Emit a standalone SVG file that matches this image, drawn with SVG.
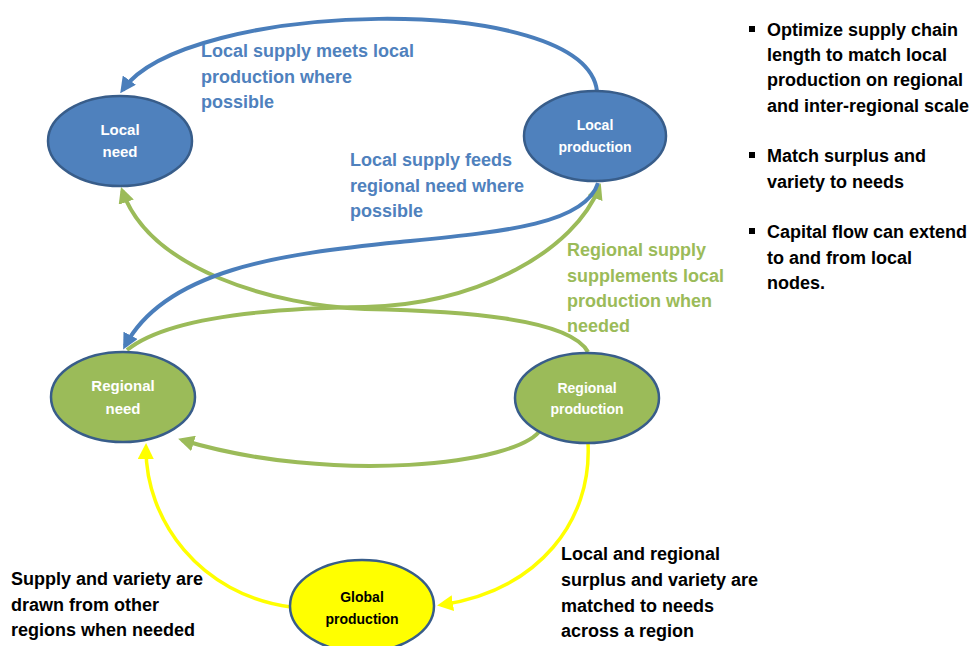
<svg xmlns="http://www.w3.org/2000/svg" width="976" height="646" viewBox="0 0 976 646">
<style>
.node{stroke:#385D8A;stroke-width:2.5}
.blue{fill:#4F81BD}
.green{fill:#9BBB59}
.yellow{fill:#FFFF00}
.nt{font-family:"Liberation Sans",Arial,sans-serif;font-weight:bold;font-size:14px;fill:#FFFFFF;text-anchor:middle}
.ntb{fill:#000000}
.lbl{font-family:"Liberation Sans",Arial,sans-serif;font-weight:bold;font-size:18px}
.lb{fill:#4F81BD}
.lg{fill:#9BBB59}
.lk{fill:#000000}
.c{fill:none;stroke-width:4}
.cb{stroke:#4A7EBB}
.cg{stroke:#9BBB59}
.cy{stroke:#FFFF00;stroke-width:3.5}
</style>
<defs>
<marker id="ab" markerUnits="userSpaceOnUse" viewBox="0 0 16 16" markerWidth="16" markerHeight="16" refX="12" refY="8" orient="auto"><path d="M0,0 L16,8 L0,16 z" fill="#4A7EBB"/></marker>
<marker id="ag" markerUnits="userSpaceOnUse" viewBox="0 0 16 16" markerWidth="16" markerHeight="16" refX="12" refY="8" orient="auto"><path d="M0,0 L16,8 L0,16 z" fill="#9BBB59"/></marker>
<marker id="ay" markerUnits="userSpaceOnUse" viewBox="0 0 16 16" markerWidth="16" markerHeight="16" refX="12" refY="8" orient="auto"><path d="M0,0 L16,8 L0,16 z" fill="#FFFF00"/></marker>
</defs>
<rect width="976" height="646" fill="#FFFFFF"/>
<g id="connectors">
<path class="c cb" d="M597,91 C585,-10 185,0 122.5,90" marker-end="url(#ab)"/>
<path class="c cg" d="M588,352 C570,318 460,311 365,309 C275,306 150,270 122.3,190.8" marker-end="url(#ag)"/>
<path class="c cg" d="M127,350 C170,315 280,308 365,307 C480,304 575,250 599.3,187" marker-end="url(#ag)"/>
<path class="c cb" d="M598,183 C585,225 500,232 400,242 C280,254 165,270 125,346" marker-end="url(#ab)"/>
<path class="c cg" d="M541,429 C520,465 330,485 182,440" marker-end="url(#ag)"/>
<path class="c cy" d="M588,443 C592,520 540,590 441,605" marker-end="url(#ay)"/>
<path class="c cy" d="M291,607 C200,595 145,520 146,447" marker-end="url(#ay)"/>
</g>
<g id="local-need">
<ellipse class="node blue" cx="120" cy="141" rx="72" ry="45"/>
<text class="nt" style="font-size:15px" x="120" y="135">Local</text>
<text class="nt" style="font-size:15px" x="120" y="157">need</text>
</g>
<g id="local-production">
<ellipse class="node blue" cx="595" cy="136" rx="71" ry="45"/>
<text class="nt" x="595" y="130">Local</text>
<text class="nt" x="595" y="152">production</text>
</g>
<g id="regional-need">
<ellipse class="node green" cx="123" cy="397" rx="72" ry="45"/>
<text class="nt" style="font-size:15px" x="123" y="391">Regional</text>
<text class="nt" style="font-size:15px" x="123" y="414">need</text>
</g>
<g id="regional-production">
<ellipse class="node green" cx="587" cy="398" rx="72" ry="45"/>
<text class="nt" x="587" y="393">Regional</text>
<text class="nt" x="587" y="414">production</text>
</g>
<g id="global-production">
<ellipse class="node yellow" cx="362" cy="606" rx="72" ry="46"/>
<text class="nt ntb" x="362" y="602">Global</text>
<text class="nt ntb" x="362" y="624">production</text>
</g>
<g id="labels">
<text class="lbl lb"><tspan x="201" y="57">Local supply meets local</tspan><tspan x="201" y="83">production where</tspan><tspan x="201" y="108">possible</tspan></text>
<text class="lbl lb"><tspan x="350" y="166">Local supply feeds</tspan><tspan x="350" y="192">regional need where</tspan><tspan x="350" y="217">possible</tspan></text>
<text class="lbl lg"><tspan x="567" y="256">Regional supply</tspan><tspan x="567" y="282">supplements local</tspan><tspan x="567" y="307">production when</tspan><tspan x="567" y="332">needed</tspan></text>
<text class="lbl lk"><tspan x="11" y="585">Supply and variety are</tspan><tspan x="11" y="611">drawn from other</tspan><tspan x="11" y="636">regions when needed</tspan></text>
<text class="lbl lk"><tspan x="561" y="560">Local and regional</tspan><tspan x="561" y="586">surplus and variety are</tspan><tspan x="561" y="612">matched to needs</tspan><tspan x="561" y="637">across a region</tspan></text>
</g>
<g id="bullets">
<rect x="749" y="26" width="6" height="6" fill="#000"/>
<rect x="749" y="152" width="6" height="6" fill="#000"/>
<rect x="749" y="228" width="6" height="6" fill="#000"/>
<text class="lbl lk"><tspan x="767" y="36">Optimize supply chain</tspan><tspan x="767" y="61">length to match local</tspan><tspan x="767" y="86">production on regional</tspan><tspan x="767" y="112">and inter-regional scale</tspan></text>
<text class="lbl lk"><tspan x="767" y="162">Match surplus and</tspan><tspan x="767" y="188">variety to needs</tspan></text>
<text class="lbl lk"><tspan x="767" y="238">Capital flow can extend</tspan><tspan x="767" y="264">to and from local</tspan><tspan x="767" y="289">nodes.</tspan></text>
</g>
</svg>
